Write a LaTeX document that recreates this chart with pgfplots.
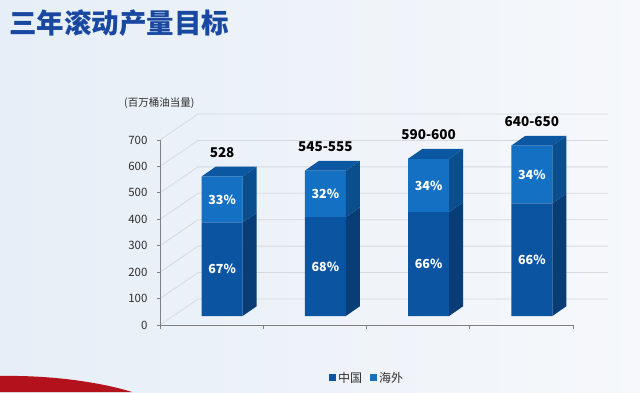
\documentclass[border=0pt]{standalone}
\usepackage{fontspec}
\setmainfont{Noto Sans CJK SC}
\usepackage{pgfplots}
\pgfplotsset{compat=1.18}
\definecolor{cnfront}{HTML}{0B54A2}
\definecolor{osfront}{HTML}{1370C2}
\definecolor{cnside}{HTML}{083D76}
\definecolor{osside}{HTML}{0A4E8E}
\definecolor{topc}{HTML}{0C57A2}
\definecolor{titleblue}{HTML}{1848A0}
\definecolor{gridc}{HTML}{D6DAE0}
\definecolor{axisgray}{HTML}{808080}
\definecolor{textgray}{HTML}{2E2E2E}
\definecolor{bgl}{HTML}{E6EEF7}
\definecolor{bgr}{HTML}{F6F8FB}
\definecolor{swoosh}{HTML}{B3121C}
\begin{document}
\begin{tikzpicture}
\useasboundingbox (0pt,0pt) rectangle (640pt,392pt);
\shade[left color=bgl, right color=bgr] (0pt,0pt) rectangle (640pt,392pt);
\fill[swoosh] (0pt,16pt) .. controls (50pt,17pt) and (100pt,10pt) .. (132pt,0pt) -- (0pt,0pt) -- cycle;
\node[anchor=west, text=titleblue, font=\bfseries\fontsize{27.5}{27.5}\selectfont, inner sep=0pt] at (9pt,369pt) {三年滚动产量目标};
\node[anchor=west, text=textgray, font=\fontsize{10.5}{10.5}\selectfont, inner sep=0pt] at (124pt,289pt) {(百万桶油当量)};
% 3D walls grid
\foreach \v in {0,100,...,700} {
  \draw[gridc, line width=0.8pt] (160pt,{(67+\v*0.264286)*1pt}) -- (198pt,{(93+\v*0.264286)*1pt}) -- (608pt,{(93+\v*0.264286)*1pt});
}
% front axis with ticks
\begin{axis}[at={(160pt,67pt)}, anchor=south west, scale only axis,
  width=413pt, height=185pt,
  xmin=-0.5, xmax=3.5, ymin=0, ymax=700,
  axis x line=bottom, axis y line=left,
  axis line style={draw=axisgray, line width=0.8pt, -},
  ytick={0,100,...,700},
  xtick={0,1,2,3},
  xticklabels={2020年预计,2021年预算,2022年目标,2023年目标},
  xmajorticks=false,
  minor xtick={-0.5,0.5,1.5,2.5,3.5},
  tick align=outside,
  tick style={draw=axisgray, line width=0.8pt},
  major tick length=3pt, minor tick length=4pt,
  ticklabel style={font=\fontsize{11.5}{11.5}\selectfont, text=textgray},
  yticklabel style={xshift=-6pt},
  xticklabel style={yshift=-4pt},
  /pgf/number format/assume math mode=true]
\end{axis}
% front faces (stacked data bars)
\begin{axis}[at={(170.5pt,76pt)}, anchor=south west, scale only axis,
  width=413pt, height=185pt,
  xmin=-0.5, xmax=3.5, ymin=0, ymax=700,
  hide axis, clip=false,
  ybar stacked, bar width=41pt,
  legend columns=2,
  legend style={at={(0.476,-0.335)}, anchor=center, draw=none, fill=none,
    font=\fontsize{12}{12}\selectfont, text=textgray,
    /tikz/every even column/.append style={column sep=6pt}}]
\addplot[fill=cnfront, draw=none,
  legend image code/.code={\fill[cnfront] (0pt,-3.5pt) rectangle (7pt,3.5pt);}]
  coordinates {(0,354) (1,374) (2,393) (3,426)};
\addplot[fill=osfront, draw=none,
  legend image code/.code={\fill[osfront] (0pt,-3.5pt) rectangle (7pt,3.5pt);}]
  coordinates {(0,174) (1,176) (2,202) (3,219)};
\legend{中国,海外}
\end{axis}
% side and top faces, labels
\begin{axis}[at={(170.5pt,76pt)}, anchor=south west, scale only axis,
  width=413pt, height=185pt,
  xmin=-0.5, xmax=3.5, ymin=0, ymax=700,
  hide axis, clip=false]
% lower side faces
\addplot[fill=cnside, draw=none] coordinates {(0.1985,0) (0.3345,37) (0.3345,391) (0.1985,354)} -- cycle;
\addplot[fill=cnside, draw=none] coordinates {(1.1985,0) (1.3345,37) (1.3345,411) (1.1985,374)} -- cycle;
\addplot[fill=cnside, draw=none] coordinates {(2.1985,0) (2.3345,37) (2.3345,430) (2.1985,393)} -- cycle;
\addplot[fill=cnside, draw=none] coordinates {(3.1985,0) (3.3345,37) (3.3345,463) (3.1985,426)} -- cycle;
% upper side faces
\addplot[fill=osside, draw=none] coordinates {(0.1985,354) (0.3345,391) (0.3345,565) (0.1985,528)} -- cycle;
\addplot[fill=osside, draw=none] coordinates {(1.1985,374) (1.3345,411) (1.3345,587) (1.1985,550)} -- cycle;
\addplot[fill=osside, draw=none] coordinates {(2.1985,393) (2.3345,430) (2.3345,632) (2.1985,595)} -- cycle;
\addplot[fill=osside, draw=none] coordinates {(3.1985,426) (3.3345,463) (3.3345,682) (3.1985,645)} -- cycle;
% top faces
\addplot[fill=topc, draw=none] coordinates {(-0.1985,528) (0.1985,528) (0.3345,565) (-0.0625,565)} -- cycle;
\addplot[fill=topc, draw=none] coordinates {(0.8015,550) (1.1985,550) (1.3345,587) (0.9375,587)} -- cycle;
\addplot[fill=topc, draw=none] coordinates {(1.8015,595) (2.1985,595) (2.3345,632) (1.9375,632)} -- cycle;
\addplot[fill=topc, draw=none] coordinates {(2.8015,645) (3.1985,645) (3.3345,682) (2.9375,682)} -- cycle;
% percentage labels
\addplot[draw=none, mark=none, nodes near coords, point meta=explicit symbolic,
  nodes near coords style={anchor=center, text=white, font=\bfseries\fontsize{12.5}{12.5}\selectfont}]
  coordinates {(0,177)[67\%] (1,187)[68\%] (2,196)[66\%] (3,213)[66\%]};
\addplot[draw=none, mark=none, nodes near coords, point meta=explicit symbolic,
  nodes near coords style={anchor=center, text=white, font=\bfseries\fontsize{12.5}{12.5}\selectfont}]
  coordinates {(0,441)[33\%] (1,462)[32\%] (2,494)[34\%] (3,535.5)[34\%]};
% total labels
\addplot[draw=none, mark=none, nodes near coords, point meta=explicit symbolic,
  nodes near coords style={anchor=center, yshift=14pt, text=black, font=\bfseries\fontsize{13.5}{13.5}\selectfont}]
  coordinates {(0,565)[528] (1,587)[545-555] (2,632)[590-600] (3,682)[640-650]};
\end{axis}
\end{tikzpicture}
\end{document}
